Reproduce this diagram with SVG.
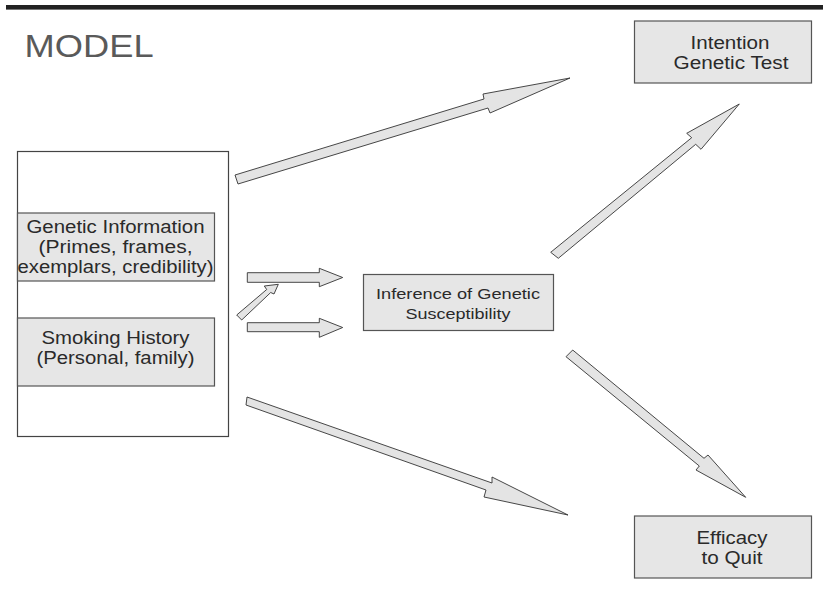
<svg xmlns="http://www.w3.org/2000/svg" width="823" height="597" viewBox="0 0 823 597">
<style>
.box{fill:#e6e6e6;stroke:#555;stroke-width:1.2}
.outer{fill:#fff;stroke:#444;stroke-width:1.2}
.t{font-family:"Liberation Sans",Arial,sans-serif;fill:#2a2a2a;text-anchor:middle}
.arrow{fill:#e4e4e4;stroke:#333;stroke-width:0.9;stroke-linejoin:miter}
</style>
<rect x="0" y="0" width="823" height="597" fill="#fff"/>
<line x1="6" y1="7" x2="823" y2="7" stroke="#222" stroke-width="4"/>
<line x1="6" y1="9.5" x2="823" y2="9.5" stroke="#777" stroke-width="1"/>
<text x="24.6" y="57" font-family="Liberation Sans, Arial, sans-serif" font-size="32" fill="#5a5a5a" textLength="129" lengthAdjust="spacingAndGlyphs">MODEL</text>
<g id="input-group">
<rect class="outer" x="17.5" y="151.5" width="211" height="285"/>
</g>
<g id="genetic-information">
<rect class="box" x="17.5" y="213" width="197" height="68"/>
<text class="t" x="115.5" y="233" font-size="17.5" textLength="178" lengthAdjust="spacingAndGlyphs">Genetic Information</text>
<text class="t" x="115.5" y="253" font-size="17.5" textLength="154" lengthAdjust="spacingAndGlyphs">(Primes, frames,</text>
<text class="t" x="115.5" y="273" font-size="17.5" textLength="196" lengthAdjust="spacingAndGlyphs">exemplars, credibility)</text>
</g>
<g id="smoking-history">
<rect class="box" x="17.5" y="318" width="197" height="68"/>
<text class="t" x="115.5" y="344" font-size="17.5" textLength="148" lengthAdjust="spacingAndGlyphs">Smoking History</text>
<text class="t" x="115.5" y="364" font-size="17.5" textLength="158" lengthAdjust="spacingAndGlyphs">(Personal, family)</text>
</g>
<g id="inference">
<rect class="box" x="363.5" y="274.5" width="190" height="56"/>
<text class="t" x="458" y="299" font-size="15.5" textLength="164" lengthAdjust="spacingAndGlyphs">Inference of Genetic</text>
<text class="t" x="458" y="319" font-size="15.5" textLength="105" lengthAdjust="spacingAndGlyphs">Susceptibility</text>
</g>
<g id="intention">
<rect class="box" x="634.5" y="21" width="177" height="62"/>
<text class="t" x="730" y="49" font-size="17.5" textLength="79" lengthAdjust="spacingAndGlyphs">Intention</text>
<text class="t" x="731" y="69" font-size="17.5" textLength="115" lengthAdjust="spacingAndGlyphs">Genetic Test</text>
</g>
<g id="efficacy">
<rect class="box" x="634.5" y="516" width="177" height="62"/>
<text class="t" x="732" y="544" font-size="17.5" textLength="71" lengthAdjust="spacingAndGlyphs">Efficacy</text>
<text class="t" x="732" y="564" font-size="17.5" textLength="61" lengthAdjust="spacingAndGlyphs">to Quit</text>
</g>
<g id="connectors">
<polygon class="arrow" points="235,175 484,99 483,94 570,78 490,113 488,108 238,184"/>
<polygon class="arrow" points="247,397 492,483 492,477 568,515 484,497 486,490 246,405"/>
<polygon class="arrow" points="550.7,252.3 691.7,137.7 686.7,133.3 739.3,104 701,149.3 695.7,144.3 558.3,258.3"/>
<polygon class="arrow" points="572.7,350 704,458.3 708,455 745.7,497.3 696,470 699.3,466 566,356.7"/>
<polygon class="arrow" points="247.3,272.7 319.3,272.7 319.3,268.3 342.7,277.5 319.3,286.7 319.3,282.3 247.3,282.3"/>
<polygon class="arrow" points="247.3,322.7 319.3,322.7 319.3,318.3 342.7,327.5 319.3,337.3 319.3,331.7 247.3,331.7"/>
<polygon class="arrow" points="236.7,315 266.7,289.5 264.3,286 278.3,284.3 274,294 270.7,292.5 241.7,320"/>
</g>
</svg>
